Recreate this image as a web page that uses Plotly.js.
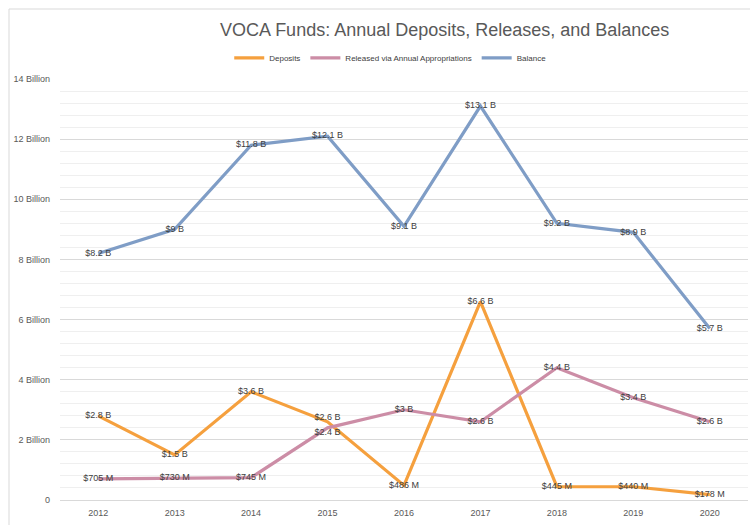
<!DOCTYPE html>
<html>
<head>
<meta charset="utf-8">
<script src="https://cdn.plot.ly/plotly-3.0.1.min.js"></script>
<style>html,body{margin:0;padding:0;background:#fff;}#chart{width:750px;height:525px;}</style>
</head>
<body>
<div id="chart"></div>
<script>
const years = ["2012","2013","2014","2015","2016","2017","2018","2019","2020"];
const deposits = [2.8, 1.5, 3.6, 2.6, 0.486, 6.6, 0.445, 0.440, 0.178];
const depositLabels = ["$2.8 B","$1.5 B","$3.6 B","$2.6 B","$486 M","$6.6 B","$445 M","$440 M","$178 M"];
const released = [0.705, 0.730, 0.745, 2.4, 3.0, 2.6, 4.4, 3.4, 2.6];
const releasedLabels = ["$705 M","$730 M","$745 M","$2.4 B","$3 B","$2.6 B","$4.4 B","$3.4 B","$2.6 B"];
const balance = [8.2, 9.0, 11.8, 12.1, 9.1, 13.1, 9.2, 8.9, 5.7];
const balanceLabels = ["$8.2 B","$9 B","$11.8 B","$12.1 B","$9.1 B","$13.1 B","$9.2 B","$8.9 B","$5.7 B"];
const yTickVals = [0, 2, 4, 6, 8, 10, 12, 14];
const yTickText = ["0","2 Billion","4 Billion","6 Billion","8 Billion","10 Billion","12 Billion","14 Billion"];

const font = "Liberation Sans, Arial, sans-serif";
const labelFont = {family: font, size: 9, color: "#404040"};
function series(name, y, labels, color, pos) {
  return {
    type: "scatter", mode: "lines+text", name: name,
    x: years, y: y, text: labels, textposition: pos,
    textfont: labelFont,
    line: {color: color, width: 3.2},
    cliponaxis: false, hoverinfo: "skip"
  };
}
const mid = years.map(() => "middle center");
const depPos = mid.slice(); depPos[3] = "top center";
const relPos = mid.slice(); relPos[3] = "bottom center";
const data = [
  series("Deposits", deposits, depositLabels, "#F5A03E", depPos),
  series("Released via Annual Appropriations", released, releasedLabels, "#CC8DA6", relPos),
  series("Balance", balance, balanceLabels, "#7F9DC6", mid)
];
const layout = {
  width: 750, height: 525,
  margin: {l: 60, r: 2, t: 79, b: 25},
  paper_bgcolor: "#ffffff", plot_bgcolor: "#ffffff",
  showlegend: true,
  title: {text: "VOCA Funds: Annual Deposits, Releases, and Balances",
    font: {family: font, size: 18, color: "#595959"},
    xref: "container", x: 0.593, xanchor: "center",
    yref: "container", y: 1 - 30/525, yanchor: "middle"},
  legend: {orientation: "h", x: 0.48, xanchor: "center", y: 1.05, yanchor: "middle",
    font: {family: font, size: 8, color: "#404040"}, bgcolor: "rgba(0,0,0,0)"},
  xaxis: {type: "category", range: [-0.5, 8.5], showgrid: false, zeroline: false,
    showline: true, linecolor: "#d9d9d9", linewidth: 1, ticks: "", ticklabelstandoff: 4,
    tickfont: {family: font, size: 9, color: "#595959"}, fixedrange: true},
  yaxis: {range: [0, 14], tickvals: yTickVals, ticktext: yTickText,
    showgrid: true, gridcolor: "#d9d9d9", gridwidth: 1, zeroline: false,
    showline: false, ticks: "", ticklabelstandoff: 9,
    minor: {dtick: 0.4, showgrid: true, gridcolor: "#efefef", gridwidth: 1},
    tickfont: {family: font, size: 9, color: "#595959"}, fixedrange: true},
  shapes: [{type: "rect", xref: "paper", yref: "paper",
    x0: (9 - 60) / 688, x1: 1.2, y0: -0.2, y1: (500 - 9) / 421,
    line: {color: "#d9d9d9", width: 1}, fillcolor: "rgba(0,0,0,0)", layer: "below"}]
};
Plotly.newPlot("chart", data, layout, {displayModeBar: false, staticPlot: true});
</script>
</body>
</html>
